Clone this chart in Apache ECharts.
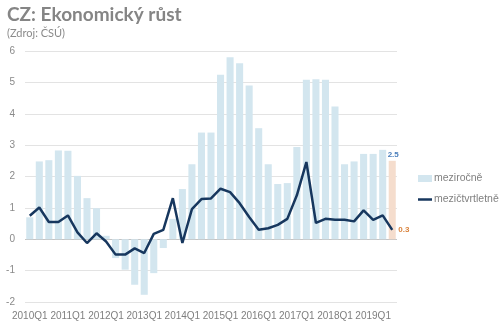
<!DOCTYPE html>
<html>
<head>
<meta charset="utf-8">
<script src="https://cdn.jsdelivr.net/npm/echarts@6/dist/echarts.min.js"></script>
<style>
html,body{margin:0;padding:0;background:#fff;}
#c{width:500px;height:326px;}
</style>
</head>
<body>
<div id="c"></div>
<script>
const categories = [
  '2010Q1','2010Q2','2010Q3','2010Q4',
  '2011Q1','2011Q2','2011Q3','2011Q4',
  '2012Q1','2012Q2','2012Q3','2012Q4',
  '2013Q1','2013Q2','2013Q3','2013Q4',
  '2014Q1','2014Q2','2014Q3','2014Q4',
  '2015Q1','2015Q2','2015Q3','2015Q4',
  '2016Q1','2016Q2','2016Q3','2016Q4',
  '2017Q1','2017Q2','2017Q3','2017Q4',
  '2018Q1','2018Q2','2018Q3','2018Q4',
  '2019Q1','2019Q2','2019Q3'
];
const yoy = [
  0.70, 2.48, 2.52, 2.83,
  2.82, 2.02, 1.31, 0.99,
  0.11, -0.60, -0.97, -1.45,
  -1.77, -1.08, -0.28, 0.65,
  1.60, 2.39, 3.40, 3.40,
  5.24, 5.80, 5.61, 4.90,
  3.54, 2.39, 1.76, 1.79,
  2.94, 5.08, 5.10, 5.08,
  4.23, 2.39, 2.48, 2.72,
  2.72, 2.85, 2.5
];
const qoq = [
  0.75, 1.01, 0.55, 0.55,
  0.76, 0.22, -0.12, 0.19,
  -0.07, -0.49, -0.49, -0.29,
  -0.44, 0.17, 0.30, 1.31,
  -0.12, 0.96, 1.28, 1.30,
  1.61, 1.50, 1.15, 0.71,
  0.30, 0.35, 0.46, 0.65,
  1.40, 2.46, 0.52, 0.65,
  0.62, 0.62, 0.57, 0.92,
  0.62, 0.76, 0.3
];
const yTicks = [-2, -1, 0, 1, 2, 3, 4, 5, 6];
const seriesNames = ['meziročně', 'mezičtvrtletně'];

const lastIdx = yoy.length - 1;
const barData = yoy.map((v, i) => i === lastIdx ? {
  value: v,
  itemStyle: { color: '#f5ddcd' },
  label: { show: true, position: 'top', distance: 2, offset: [1, 0], color: '#4a7ebb', fontSize: 8, fontWeight: 'bold', fontFamily: 'Liberation Sans' }
} : v);

const gridColors = yTicks.map(t => t === 0 ? '#c4c4c4' : '#e3e3e3');

const chart = echarts.init(document.getElementById('c'), null, { renderer: 'canvas' });
chart.setOption({
  animation: false,
  backgroundColor: '#ffffff',
  title: {
    text: 'CZ: Ekonomický růst',
    subtext: '(Zdroj: ČSÚ)',
    left: 2,
    top: 0,
    itemGap: 4,
    textStyle: { fontFamily: 'Lato', fontSize: 19, fontWeight: 'bold', color: '#858585' },
    subtextStyle: { fontFamily: 'Lato', fontSize: 11, color: '#8a8a8a' }
  },
  legend: {
    orient: 'vertical',
    left: 413,
    top: 168,
    itemWidth: 14,
    itemHeight: 7,
    itemGap: 10,
    textStyle: { fontFamily: 'Liberation Sans', fontSize: 10.5, color: '#808080', padding: [0, 0, 0, -3] },
    data: [
      { name: seriesNames[0], icon: 'rect' },
      { name: seriesNames[1], icon: 'path://M0,0 L28,0 L28,5 L0,5 Z', itemStyle: { color: '#17375e' } }
    ]
  },
  grid: { left: 25, right: 103, top: 51, bottom: 24, containLabel: false },
  xAxis: {
    type: 'category',
    data: categories,
    boundaryGap: true,
    axisLine: { show: false },
    axisTick: { show: false },
    splitLine: { show: false },
    axisLabel: { interval: 3, margin: 9, color: '#7f7f7f', fontSize: 10, fontFamily: 'Liberation Sans' }
  },
  yAxis: {
    type: 'value',
    min: yTicks[0],
    max: yTicks[yTicks.length - 1],
    interval: 1,
    axisLine: { show: false },
    axisTick: { show: false },
    axisLabel: { margin: 10, color: '#8a8a8a', fontSize: 10, fontFamily: 'Liberation Sans' },
    splitLine: { lineStyle: { color: gridColors, width: 1 } }
  },
  series: [
    {
      name: seriesNames[0],
      type: 'bar',
      data: barData,
      barCategoryGap: '26%',
      itemStyle: { color: '#d3e6ef' },
      z: 1
    },
    {
      name: seriesNames[1],
      type: 'line',
      data: qoq,
      symbol: 'none',
      lineStyle: { color: '#17375e', width: 2.5 },
      itemStyle: { color: '#17375e' },
      endLabel: {
        show: true,
        distance: 6,
        color: '#d9823b',
        fontSize: 8,
        fontWeight: 'bold',
        fontFamily: 'Liberation Sans',
        formatter: p => String(p.value)
      },
      z: 3
    }
  ]
});
</script>
</body>
</html>
